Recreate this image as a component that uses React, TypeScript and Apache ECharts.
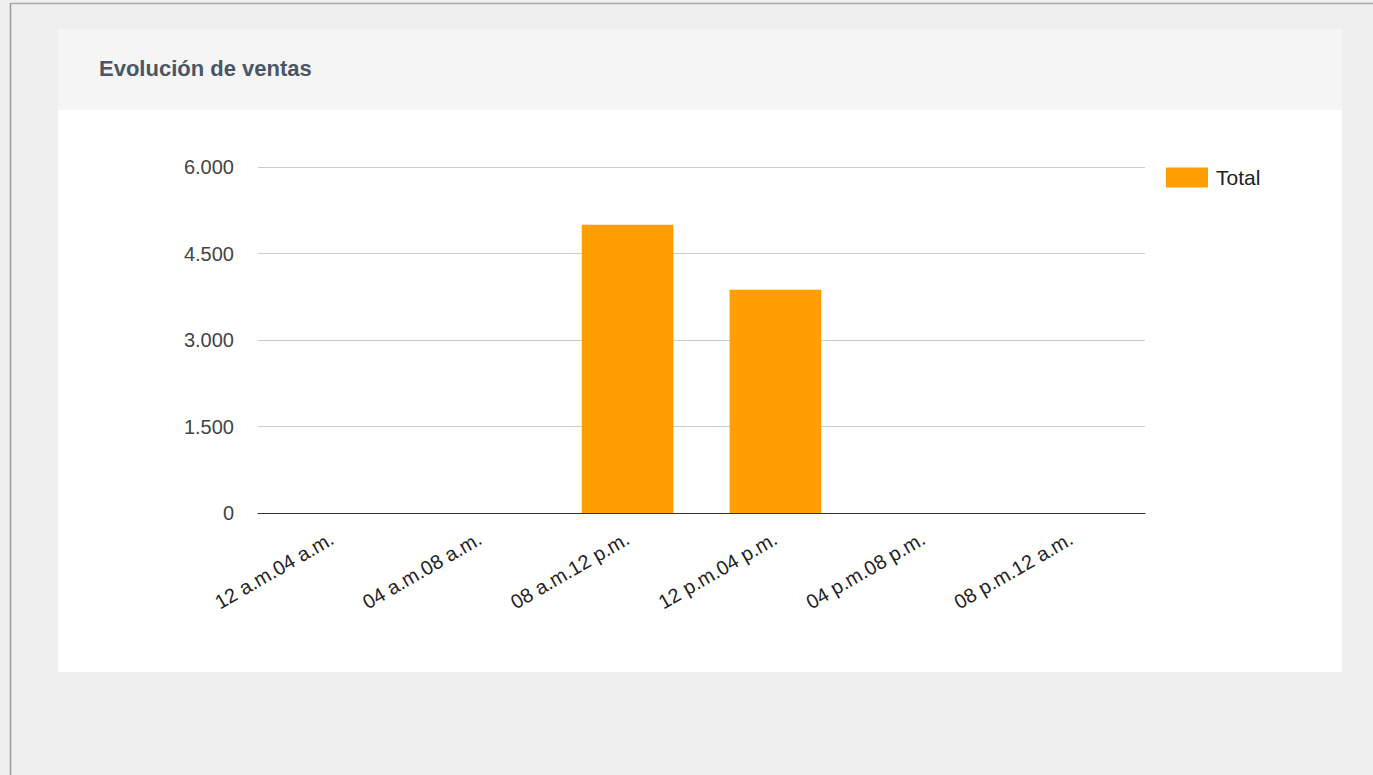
import React, { useEffect, useRef } from "react";
import * as echarts from "echarts";

const categories = [
  "12 a.m.04 a.m.",
  "04 a.m.08 a.m.",
  "08 a.m.12 p.m.",
  "12 p.m.04 p.m.",
  "04 p.m.08 p.m.",
  "08 p.m.12 a.m.",
];
const totalValues = [0, 0, 5000, 3870, 0, 0];
const seriesName = "Total";
const titleText = "Evolución de ventas";
const yMin = 0;
const yMax = 6000;
const yInterval = 1500;

const FONT = "Arial, 'Liberation Sans', sans-serif";

export default function App() {
  const ref = useRef<HTMLDivElement>(null);
  useEffect(() => {
    if (!ref.current) return;
    const chart = echarts.init(ref.current, undefined, { renderer: "svg" });
    chart.setOption({
      animation: false,
      backgroundColor: "#efefef",
      textStyle: { fontFamily: FONT },
      title: {
        text: titleText,
        left: 94,
        top: 52,
        textStyle: { fontSize: 22, fontWeight: "bold", color: "#4a5565", fontFamily: FONT },
      },
      graphic: [
        { type: "rect", z: -100, silent: true, shape: { x: 58, y: 29, width: 1284, height: 81 }, style: { fill: "#f5f5f5" } },
        { type: "rect", z: -100, silent: true, shape: { x: 58, y: 110, width: 1284, height: 562 }, style: { fill: "#ffffff" } },
        { type: "line", z: -100, silent: true, shape: { x1: 10.5, y1: 3, x2: 10.5, y2: 775 }, style: { stroke: "#9a9a9a", lineWidth: 1.5 } },
        { type: "line", z: -100, silent: true, shape: { x1: 10, y1: 3.5, x2: 1373, y2: 3.5 }, style: { stroke: "#a8a8a8", lineWidth: 1.5 } },
      ],
      legend: {
        data: [seriesName],
        left: 1161,
        top: 162,
        itemWidth: 42,
        itemHeight: 20,
        itemGap: 8,
        icon: "rect",
        textStyle: { fontSize: 21, color: "#222", fontFamily: FONT, padding: [0, 0, 0, 3] },
      },
      grid: { left: 258, right: 228, top: 167, bottom: 262, containLabel: false },
      xAxis: {
        type: "category",
        data: categories,
        axisLine: { lineStyle: { color: "#333", width: 1 } },
        axisTick: { show: false },
        axisLabel: {
          rotate: 30,
          fontSize: 20,
          color: "#222",
          margin: 24,
          interval: 0,
          fontFamily: FONT,
        },
      },
      yAxis: {
        type: "value",
        min: yMin,
        max: yMax,
        interval: yInterval,
        axisLine: { show: false },
        axisTick: { show: false },
        splitLine: { lineStyle: { color: "#cccccc" } },
        axisLabel: {
          fontSize: 20,
          color: "#444",
          margin: 24,
          fontFamily: FONT,
          formatter: (v: number) => String(v).replace(/\B(?=(\d{3})+(?!\d))/g, "."),
        },
      },
      series: [
        {
          name: seriesName,
          type: "bar",
          data: totalValues,
          barWidth: "62%",
          itemStyle: { color: "#ff9e00" },
        },
      ],
    });
    return () => chart.dispose();
  }, []);
  return (
    <div
      ref={ref}
      style={{ position: "fixed", left: 0, top: 0, width: 1373, height: 775 }}
    />
  );
}
